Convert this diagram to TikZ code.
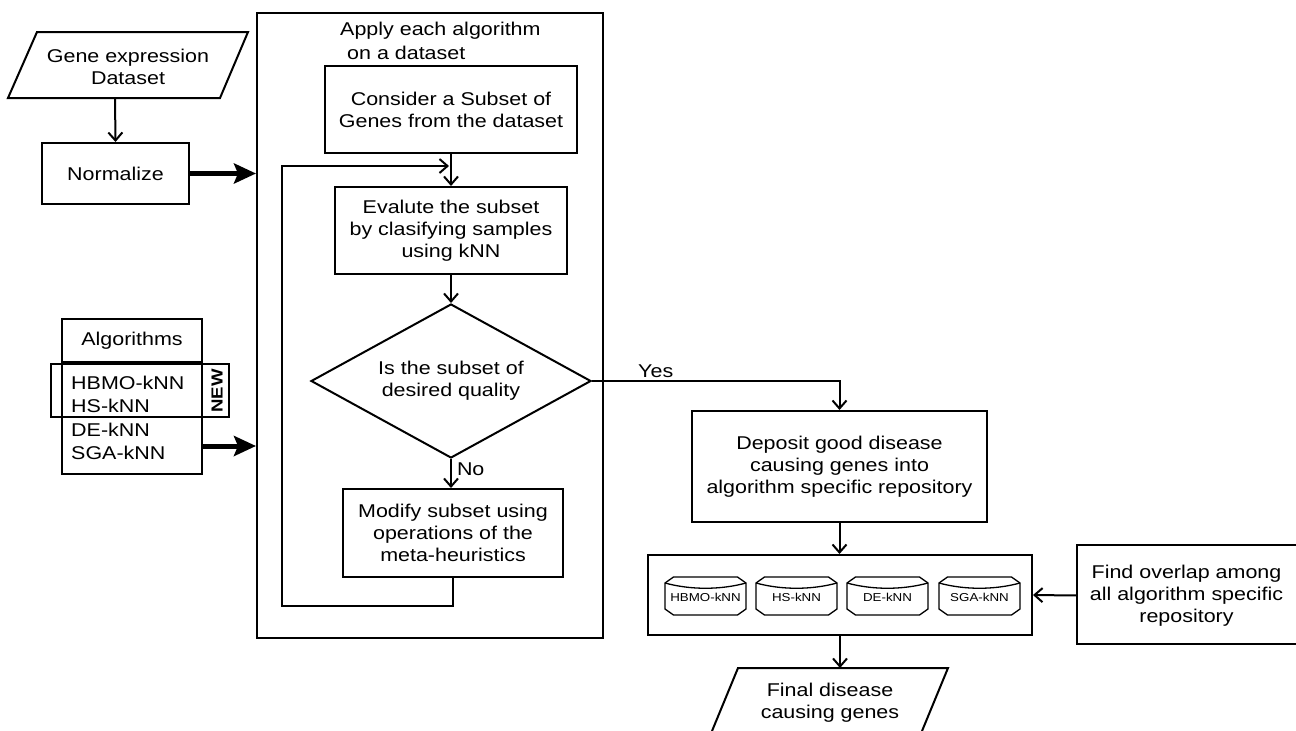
\documentclass[tikz,border=0pt]{standalone}
\usepackage{fontspec}
\setmainfont{Liberation Sans}[FakeStretch=1.16]
\usetikzlibrary{arrows.meta,shapes.geometric,calc}
\newcommand{\mfs}{\fontsize{18.5}{22}\selectfont}
\newcommand{\sfs}{\fontsize{11.5}{13}\selectfont}
\begin{document}
\begin{tikzpicture}[x=1pt,y=-1pt,
  bx/.style={draw,line width=2pt,align=center,inner sep=0pt,font=\mfs},
  tx/.style={align=center,inner sep=0pt,font=\mfs},
  arr/.style={line width=2pt,-{Straight Barb[length=8pt,width=14pt]}},
  bigarr/.style={line width=5pt,-{Stealth[length=22pt,width=20pt,inset=4pt]}},
  ln/.style={line width=2pt},
  cyl/.style={line width=1.3pt},
]
\useasboundingbox (0,0) rectangle (1296,731);

% input dataset
\node[tx,minimum width=200pt,minimum height=66pt] (gene) at (128,67) {Gene expression\\Dataset};
\draw[ln] (37,32) -- (248,32) -- (220,98) -- (8,98) -- cycle;
\node[bx,minimum width=147pt,minimum height=61pt] (norm) at (115.5,173.5) {Normalize};
\draw[arr] (115,98) -- (norm.north);

% big container
\node[draw,line width=2pt,minimum width=346pt,minimum height=625pt,inner sep=0pt] (big) at (430,325.5) {};
\node[tx,align=left,anchor=north west] (apply) at (340,22) {Apply each algorithm\\[2pt]\hspace*{7pt}on a dataset};

\draw[bigarr] (norm.east) -- (norm.east -| big.west);

% algorithms
\node[bx,minimum width=140pt,minimum height=43pt] (alghead) at (132,340.5) {Algorithms};
\node[draw,line width=2pt,minimum width=140pt,minimum height=112pt,inner sep=0pt] (alglist) at (132,418) {};
\node[draw,line width=1.6pt,minimum width=178pt,minimum height=53pt,inner sep=0pt] (newbox) at (140,390.5) {};
\node[tx,align=left,anchor=west,font=\fontsize{18.5}{23.3}\selectfont] (algtxt) at (71,418) {HBMO-kNN\\HS-kNN\\DE-kNN\\SGA-kNN};
\node[inner sep=0pt,rotate=90,font=\fontsize{16}{18}\selectfont\bfseries] (newlbl) at (217,391) {NEW};
\coordinate (a1) at ($(alglist.south east)+(0,-29)$);
\draw[bigarr] (a1) -- (a1 -| big.west);

% inner flow
\node[bx,minimum width=252pt,minimum height=87pt] (cons) at (451,109.5) {Consider a Subset of\\Genes from the dataset};
\node[bx,minimum width=232pt,minimum height=87pt] (eval) at (451,230.5) {Evalute the subset\\by clasifying samples\\using kNN};
\node[draw,line width=2pt,diamond,aspect=1.82,minimum width=280pt,minimum height=154pt,inner sep=0pt,align=center,font=\mfs] (dia) at (451,381) {Is the subset of\\desired quality};
\node[bx,minimum width=220pt,minimum height=88pt] (mod) at (453,533) {Modify subset using\\operations of the\\meta-heuristics};

\coordinate (loopin) at (449,166);
\draw[arr] (cons.south) -- (eval.north);
\draw[arr] (eval.south) -- (dia.north);
\draw[arr] (dia.south) -- (dia.south |- mod.north) node[pos=0.35,right=5pt,tx] (nolbl) {No};
\draw[arr] (mod.south) -- ++(0,28) -| (282,166) -- (loopin);

% right part
\node[bx,minimum width=295pt,minimum height=111pt] (dep) at (839.5,466.5) {Deposit good disease\\causing genes into\\algorithm specific repository};
\draw[arr] (dia.east) -| (dep.north);
\node[tx,anchor=south west] (yeslbl) at (638,378) {Yes};

\node[draw,line width=2pt,minimum width=384pt,minimum height=80pt,inner sep=0pt] (repo) at (840,595) {};
\draw[arr] (dep.south) -- (dep.south |- repo.north);

\foreach \n/\cx/\t in {c1/705.5/HBMO-kNN, c2/796.5/HS-kNN, c3/887.5/DE-kNN, c4/979.5/SGA-kNN}{
  \node[inner sep=0pt,font=\sfs] (\n) at (\cx,597) {\t};
  \draw[cyl] ($(\n)+(-40.5,-14)$) -- ($(\n)+(-32,-20)$) -- ($(\n)+(32,-20)$) -- ($(\n)+(40.5,-14)$)
     -- ($(\n)+(40.5,12)$) -- ($(\n)+(32,18)$) -- ($(\n)+(-32,18)$) -- ($(\n)+(-40.5,12)$) -- cycle;
  \draw[cyl] ($(\n)+(-40.5,-14)$) .. controls ($(\n)+(-15,-7)$) and ($(\n)+(15,-7)$) .. ($(\n)+(40.5,-14)$);
}

\node[tx,minimum width=219pt,minimum height=99pt] (find) at (1186.5,595.5) {Find overlap among\\all algorithm specific\\repository};
\draw[ln] (1296,545) -- (1077,545) -- (1077,644) -- (1296,644);
\draw[arr] (find.west) -- (repo.east);

% final output
\node[tx,minimum width=180pt,minimum height=63pt] (final) at (830,703) {Final disease\\causing genes};
\draw[ln] (712,731) -- (738,668) -- (948,668) -- (922,731);
\draw[arr] (repo.south) -- (repo.south |- 0,668);
\end{tikzpicture}
\end{document}
